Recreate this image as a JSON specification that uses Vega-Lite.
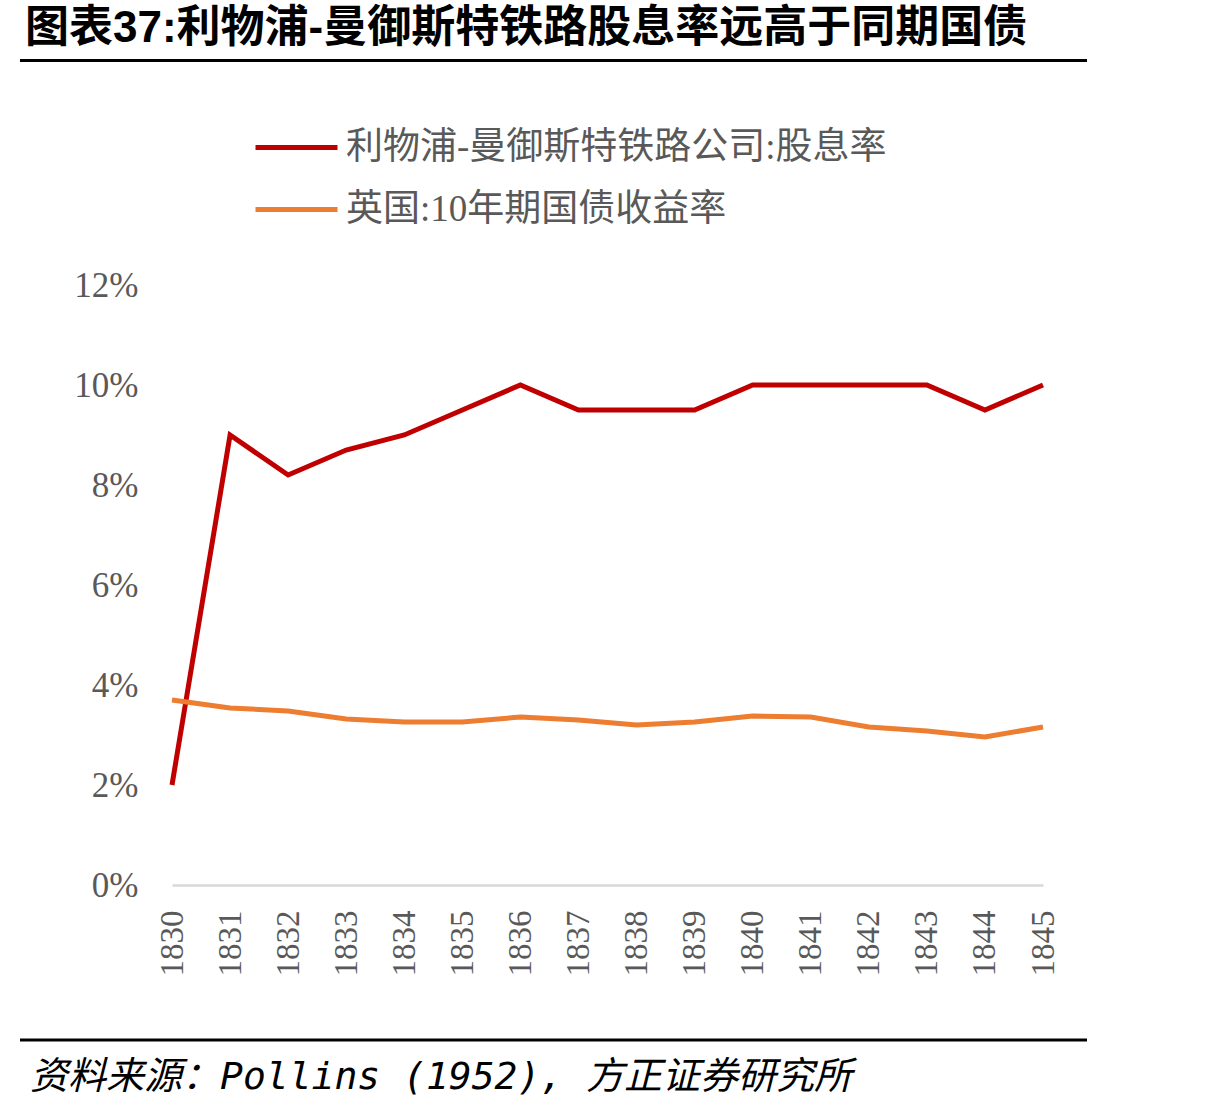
{
  "$schema": "https://vega.github.io/schema/vega-lite/v6.json",
  "autosize": "none",
  "width": 871,
  "height": 600,
  "padding": {"left": 172, "top": 285, "right": 171, "bottom": 225},
  "background": "white",
  "config": {"view": {"stroke": null}},
  "layer": [
    {
      "data": {"values": [
        {"year": 1830, "series": "利物浦-曼御斯特铁路公司:股息率", "value": 0.020},
        {"year": 1831, "series": "利物浦-曼御斯特铁路公司:股息率", "value": 0.090},
        {"year": 1832, "series": "利物浦-曼御斯特铁路公司:股息率", "value": 0.082},
        {"year": 1833, "series": "利物浦-曼御斯特铁路公司:股息率", "value": 0.087},
        {"year": 1834, "series": "利物浦-曼御斯特铁路公司:股息率", "value": 0.090},
        {"year": 1835, "series": "利物浦-曼御斯特铁路公司:股息率", "value": 0.095},
        {"year": 1836, "series": "利物浦-曼御斯特铁路公司:股息率", "value": 0.100},
        {"year": 1837, "series": "利物浦-曼御斯特铁路公司:股息率", "value": 0.095},
        {"year": 1838, "series": "利物浦-曼御斯特铁路公司:股息率", "value": 0.095},
        {"year": 1839, "series": "利物浦-曼御斯特铁路公司:股息率", "value": 0.095},
        {"year": 1840, "series": "利物浦-曼御斯特铁路公司:股息率", "value": 0.100},
        {"year": 1841, "series": "利物浦-曼御斯特铁路公司:股息率", "value": 0.100},
        {"year": 1842, "series": "利物浦-曼御斯特铁路公司:股息率", "value": 0.100},
        {"year": 1843, "series": "利物浦-曼御斯特铁路公司:股息率", "value": 0.100},
        {"year": 1844, "series": "利物浦-曼御斯特铁路公司:股息率", "value": 0.095},
        {"year": 1845, "series": "利物浦-曼御斯特铁路公司:股息率", "value": 0.100},
        {"year": 1830, "series": "英国:10年期国债收益率", "value": 0.0370},
        {"year": 1831, "series": "英国:10年期国债收益率", "value": 0.0354},
        {"year": 1832, "series": "英国:10年期国债收益率", "value": 0.0348},
        {"year": 1833, "series": "英国:10年期国债收益率", "value": 0.0332},
        {"year": 1834, "series": "英国:10年期国债收益率", "value": 0.0326},
        {"year": 1835, "series": "英国:10年期国债收益率", "value": 0.0326},
        {"year": 1836, "series": "英国:10年期国债收益率", "value": 0.0336},
        {"year": 1837, "series": "英国:10年期国债收益率", "value": 0.0330},
        {"year": 1838, "series": "英国:10年期国债收益率", "value": 0.0320},
        {"year": 1839, "series": "英国:10年期国债收益率", "value": 0.0326},
        {"year": 1840, "series": "英国:10年期国债收益率", "value": 0.0338},
        {"year": 1841, "series": "英国:10年期国债收益率", "value": 0.0336},
        {"year": 1842, "series": "英国:10年期国债收益率", "value": 0.0316},
        {"year": 1843, "series": "英国:10年期国债收益率", "value": 0.0308},
        {"year": 1844, "series": "英国:10年期国债收益率", "value": 0.0296},
        {"year": 1845, "series": "英国:10年期国债收益率", "value": 0.0316}
      ]},
      "mark": {"type": "line", "strokeWidth": 5, "strokeJoin": "miter"},
      "encoding": {
        "x": {
          "field": "year", "type": "quantitative",
          "scale": {"domain": [1830, 1845], "nice": false, "zero": false},
          "axis": {
            "title": null, "values": [1830,1831,1832,1833,1834,1835,1836,1837,1838,1839,1840,1841,1842,1843,1844,1845],
            "format": "d", "labelAngle": -90, "labelAlign": "right", "labelBaseline": "middle",
            "ticks": false, "labelPadding": 25, "grid": false,
            "domainColor": "#D9D9D9", "domainWidth": 2.5,
            "labelFont": "Liberation Serif", "labelFontSize": 33, "labelColor": "#595959",
            "labelOverlap": false, "labelFlush": false
          }
        },
        "y": {
          "field": "value", "type": "quantitative",
          "scale": {"domain": [0, 0.12], "nice": false},
          "axis": {
            "title": null, "values": [0, 0.02, 0.04, 0.06, 0.08, 0.10, 0.12], "format": ".0%",
            "ticks": false, "domain": false, "grid": false, "labelPadding": 34,
            "labelFont": "Liberation Serif", "labelFontSize": 35, "labelColor": "#595959"
          }
        },
        "color": {
          "field": "series", "type": "nominal",
          "scale": {"domain": ["利物浦-曼御斯特铁路公司:股息率", "英国:10年期国债收益率"], "range": ["#C00000", "#ED7D31"]},
          "legend": {
            "orient": "none", "legendX": 81, "legendY": -181, "direction": "vertical",
            "title": null, "symbolType": "stroke", "symbolSize": 6724, "symbolStrokeWidth": 5,
            "labelFont": "Liberation Serif, Noto Sans CJK SC", "labelFontSize": 37, "labelColor": "#595959",
            "labelOffset": 6, "rowPadding": -19, "padding": 0, "labelLimit": 1000
          }
        }
      }
    },
    {
      "data": {"values": [{"pos": "top"}]},
      "mark": {"type": "rule", "color": "#000000", "strokeWidth": 3},
      "encoding": {
        "x": {"datum": 1827.382, "type": "quantitative"},
        "x2": {"datum": 1845.758},
        "y": {"datum": 0.1649, "type": "quantitative"}
      }
    },
    {
      "data": {"values": [{"pos": "bottom"}]},
      "mark": {"type": "rule", "color": "#000000", "strokeWidth": 3},
      "encoding": {
        "x": {"datum": 1827.382, "type": "quantitative"},
        "x2": {"datum": 1845.758},
        "y": {"datum": -0.031, "type": "quantitative"}
      }
    },
    {
      "data": {"values": [{"label": "图表37:利物浦-曼御斯特铁路股息率远高于同期国债"}]},
      "mark": {"type": "text", "align": "left", "baseline": "middle", "font": "Liberation Sans, Noto Sans CJK SC", "fontWeight": "bold", "fontSize": 44, "color": "#000000"},
      "encoding": {
        "x": {"datum": 1827.468, "type": "quantitative"},
        "y": {"datum": 0.1712, "type": "quantitative"},
        "text": {"field": "label"}
      }
    },
    {
      "data": {"values": [{"label": "资料来源：Pollins (1952), 方正证券研究所"}]},
      "mark": {"type": "text", "align": "left", "baseline": "middle", "font": "DejaVu Sans Mono, Noto Sans CJK SC", "fontStyle": "italic", "fontSize": 38, "color": "#000000"},
      "encoding": {
        "x": {"datum": 1827.555, "type": "quantitative"},
        "y": {"datum": -0.0386, "type": "quantitative"},
        "text": {"field": "label"}
      }
    }
  ]
}
